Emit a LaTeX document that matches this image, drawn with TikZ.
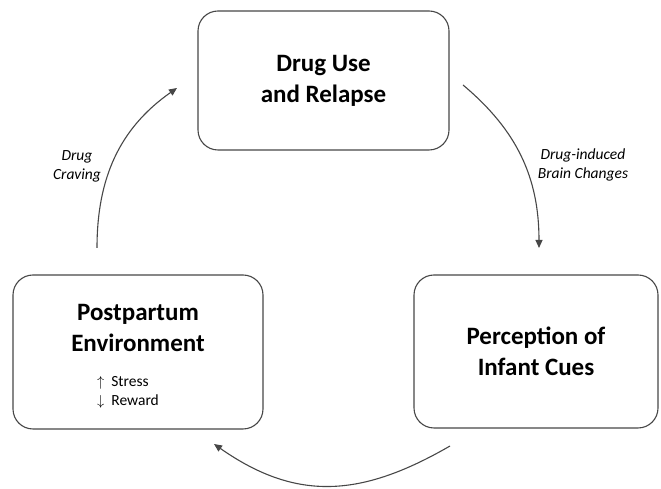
\documentclass[tikz,border=0pt]{standalone}
\usepackage{fontspec}
\setmainfont{Carlito}
\usetikzlibrary{arrows.meta}

\begin{document}
\begin{tikzpicture}[x=1pt,y=1pt,>={Triangle[length=8pt,width=7pt]}]
	\tikzstyle{stage}=[draw=black!72,line width=1.1pt,rounded corners=20pt,inner sep=0pt]
	\tikzstyle{stage title}=[align=center,font=\bfseries\fontsize{25}{31}\selectfont]
	\tikzstyle{annot}=[align=center,font=\itshape\fontsize{15.5}{19}\selectfont]
	\tikzstyle{cycle arrow}=[->,draw=black!72,line width=1.1pt]

	\useasboundingbox (0,0) rectangle (661,489);

	% Draw the three stage boxes
	\node[stage, stage title, minimum width=251pt, minimum height=139pt] (drug) at (323.5,408.5) {Drug Use\\and Relapse};
	\node[stage, stage title, minimum width=244pt, minimum height=153pt] (cues) at (536,137.5) {Perception of\\Infant Cues};
	\node[stage, minimum width=250pt, minimum height=154pt] (env) at (138,137) {};
	\node[stage title] (env-title) at (138,161) {Postpartum\\Environment};
	\node[align=left, font=\fontsize{15.5}{19}\selectfont] (env-list) at (128,97) {$\uparrow$\hspace{7pt}Stress\\$\downarrow$\hspace{7pt}Reward};

	% Free ends of the cycle arrows
	\coordinate (craving-s) at (97,241);
	\coordinate (craving-e) at (177,401);
	\coordinate (changes-s) at (463,404);
	\coordinate (changes-e) at (539,241);
	\coordinate (cues-s) at (450,43);
	\coordinate (env-e) at (214,45);

	% Draw the cycle arrows
	\draw[cycle arrow] (craving-s) to[out=90,in=215] (craving-e);
	\draw[cycle arrow] (changes-s) to[out=-40,in=90] (changes-e);
	\draw[cycle arrow] (cues-s) to[out=210,in=-35,looseness=1.1] (env-e);

	% Annotate the arrows
	\node[annot] (craving) at (77,323) {Drug\\Craving};
	\node[annot] (changes) at (583,324) {Drug-induced\\Brain Changes};
\end{tikzpicture}
\end{document}
